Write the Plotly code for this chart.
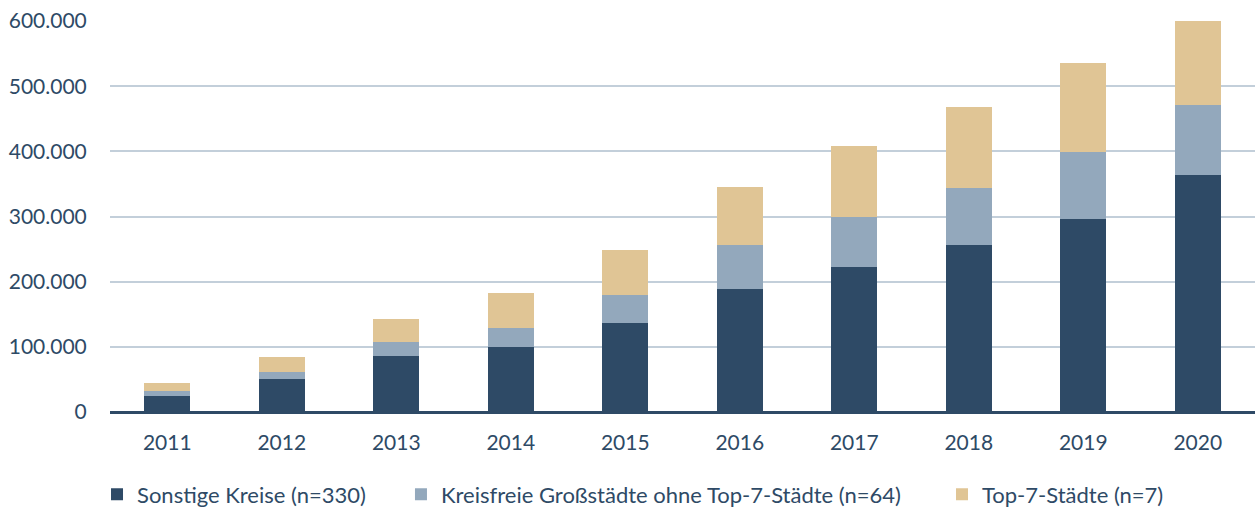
import plotly.graph_objects as go

years = ["2011", "2012", "2013", "2014", "2015", "2016", "2017", "2018", "2019", "2020"]
sonstige = [25000, 51000, 86000, 99000, 136000, 189000, 222000, 256000, 296000, 364000]
kreisfreie = [8000, 11000, 22000, 30000, 44000, 68000, 78000, 88000, 103000, 107000]
top7 = [11500, 22500, 34000, 53000, 68000, 89000, 108000, 124000, 136000, 129000]

names = ["Sonstige Kreise (n=330)", "Kreisfreie Großstädte ohne Top-7-Städte (n=64)", "Top-7-Städte (n=7)"]
colors = ["#2e4a66", "#93a8bc", "#e0c595"]
series = [sonstige, kreisfreie, top7]
legend_ids = ["legend2", "legend3", "legend4"]
legend_x = [0.0773, 0.3195, 0.7506]

text_color = "#2e4a66"
fnt = "Lato, Open Sans, sans-serif"

fig = go.Figure()
for n, c, s, lid in zip(names, colors, series, legend_ids):
    fig.add_trace(go.Bar(x=years, y=s, name=n, legend=lid,
                         marker=dict(color=c, line=dict(width=0))))

leg_common = dict(orientation="h", xref="container", yref="container", y=0.068,
                  xanchor="left", yanchor="top",
                  font=dict(family=fnt, size=22, color=text_color), itemwidth=30,
                  bgcolor="rgba(0,0,0,0)")

fig.update_layout(
    barmode="stack",
    bargap=0.6,
    width=1255, height=508,
    margin=dict(l=110, r=0, t=21, b=96, autoexpand=False),
    paper_bgcolor="white", plot_bgcolor="white",
    separators=",.",
    font=dict(family=fnt, size=21, color=text_color),
    legend2=dict(x=legend_x[0], **leg_common),
    legend3=dict(x=legend_x[1], **leg_common),
    legend4=dict(x=legend_x[2], **leg_common),
    xaxis=dict(showgrid=False, showline=False, ticks="outside", ticklen=12,
               tickcolor="rgba(0,0,0,0)", automargin=False,
               tickfont=dict(size=21, color=text_color)),
    yaxis=dict(range=[0, 600000], tickvals=[0, 100000, 200000, 300000, 400000, 500000, 600000],
               tickformat=",", showgrid=True, gridcolor="#c3cfda", gridwidth=2,
               zeroline=True, zerolinecolor="#2e4a66", zerolinewidth=3,
               ticks="outside", ticklen=18, tickcolor="rgba(0,0,0,0)", automargin=False,
               tickfont=dict(size=21, color=text_color)),
)

fig.write_html("out.html", config={"displayModeBar": False},
               post_script="document.body.style.margin='0px';")
